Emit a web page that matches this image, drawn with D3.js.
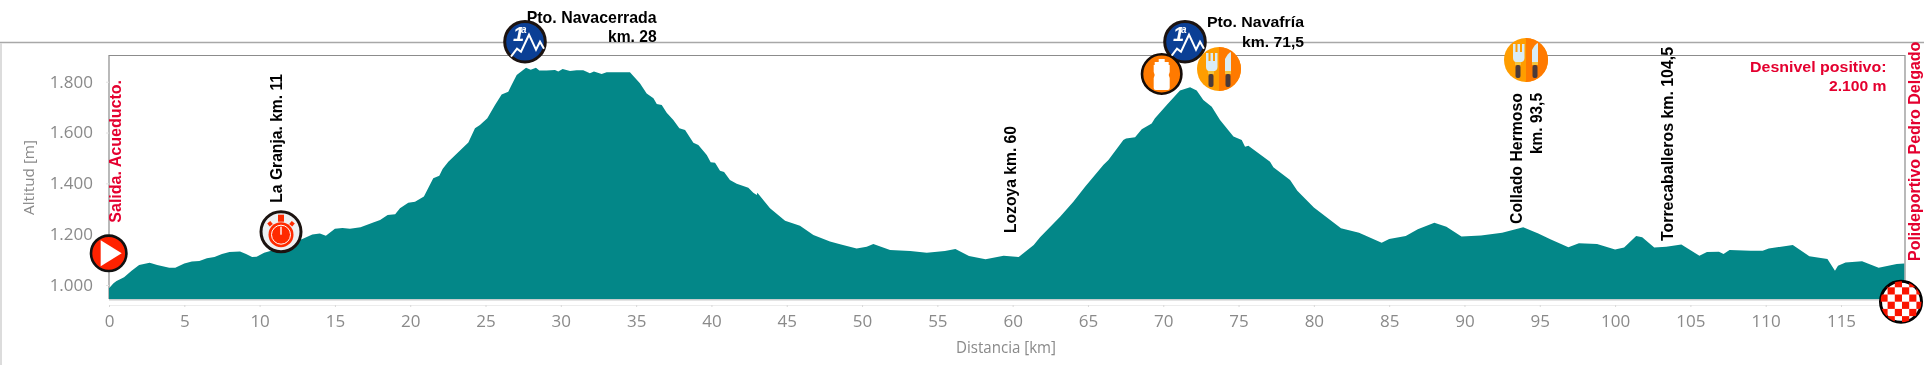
<!DOCTYPE html>
<html><head><meta charset="utf-8">
<script src="https://cdnjs.cloudflare.com/ajax/libs/d3/7.8.5/d3.min.js"></script>
<style>html,body{margin:0;padding:0;background:#fff;overflow:hidden}svg{display:block;filter:blur(.35px)}</style>
</head><body><svg id="c" width="1924" height="365"></svg>
<script>
const km = [0,0.3,0.5,1,1.5,2,2.7,3.2,4,4.4,5,5.5,6,6.5,7,7.5,8,8.7,9.1,9.5,9.8,10.3,11,12,12.8,13.5,14,14.4,15,15.5,16,16.7,17.5,18,18.5,19,19.32,19.87,20.32,20.91,21.53,21.93,22.15,22.53,23.86,24.3,24.63,25.12,25.63,26.07,26.51,26.73,27.07,27.69,28,28.35,28.57,29.06,29.61,29.83,30.12,30.61,31.05,31.49,31.93,32.2,32.71,33.04,34.59,35.25,35.7,36.15,36.37,36.7,37.03,37.47,37.87,38.25,38.8,39.13,39.69,39.95,40.24,40.57,40.84,41.23,41.68,42.45,42.78,43.01,43.05,43.89,44.89,45.88,46.77,47.87,48.54,49.64,50.31,50.75,51.86,53.2,54.3,55.5,56.2,57.1,58.2,59.4,60.4,61.4,61.82,63.15,64.03,64.81,66.02,66.36,67.35,67.53,68.13,68.57,69.23,69.45,70.23,71.11,71.78,72.22,72.66,73.22,73.77,74.66,75.21,75.43,75.65,77.09,77.31,78.42,78.9,80,81.8,83,84.5,85,86.1,86.9,88,88.8,89.8,91.1,92.5,93.9,94.9,95.7,96.9,97.6,98.8,100,100.6,101.4,101.8,102.6,103.4,104.4,105.6,106.1,106.9,107.2,107.6,109,109.8,110.2,111.8,112.9,114.1,114.6,114.8,115.3,116.4,117.5,118.7,119.2];
const altitude = [987,1007,1016,1030,1056,1079,1088,1079,1068,1068,1085,1092,1094,1105,1110,1122,1130,1132,1122,1110,1111,1127,1139,1170,1180,1199,1203,1194,1221,1224,1221,1227,1245,1256,1275,1278,1302,1324,1328,1348,1420,1430,1457,1485,1561,1617,1630,1656,1708,1750,1761,1787,1826,1855,1847,1855,1844,1844,1846,1840,1850,1842,1845,1845,1833,1840,1830,1837,1837,1794,1754,1735,1712,1708,1678,1649,1617,1610,1560,1551,1512,1483,1481,1450,1445,1413,1398,1383,1363,1354,1363,1302,1253,1233,1197,1171,1160,1144,1151,1161,1138,1134,1127,1134,1142,1114,1101,1115,1110,1157,1188,1269,1328,1387,1472,1492,1571,1577,1581,1613,1636,1656,1708,1765,1778,1765,1728,1702,1649,1584,1571,1544,1548,1485,1463,1413,1371,1305,1223,1206,1166,1181,1193,1219,1245,1229,1191,1195,1206,1227,1203,1180,1149,1164,1161,1140,1148,1193,1188,1148,1151,1159,1115,1130,1131,1122,1138,1135,1135,1144,1157,1113,1102,1056,1076,1089,1093,1068,1083,1085];
const xTickValues = d3.range(0,116,5);
const yTickValues = [1000,1200,1400,1600,1800];
const fmtAlt = v => d3.format(",")(v).replace(",",".");

const svg = d3.select("#c");
const x = d3.scaleLinear().domain([0,119.25]).range([109,1905]);
const y = d3.scaleLinear().domain([943.7,1904]).range([299.3,55.3]);
const GREY="#8a8a8a", RED="#e4002f", TEAL="#038788", FONT="'Liberation Sans',Arial,sans-serif", AXF="'Open Sans','DejaVu Sans',sans-serif";

// frame
svg.append("line").attr("x1",0).attr("x2",1924).attr("y1",42.5).attr("y2",42.5).attr("stroke","#a8a8a8").attr("stroke-width",1.3);
svg.append("line").attr("x1",1).attr("x2",1).attr("y1",43).attr("y2",365).attr("stroke","#dcdcdc").attr("stroke-width",2);
svg.append("path").attr("fill","none").attr("stroke","#8c8c8c").attr("stroke-width",1.2)
  .attr("d",`M${x(0)},299V55.5H${x(119.25)}V285`);

// area
const area = d3.area().x((d,i)=>x(km[i])).y0(y.range()[0]).y1(d=>y(d)).curve(d3.curveLinear);
svg.append("path").datum(altitude).attr("fill",TEAL).attr("d",area);
svg.append("line").attr("x1",x(0)).attr("x2",x(119.25)).attr("y1",299.8).attr("y2",299.8).attr("stroke","#c9c9c9").attr("stroke-width",1.2);

// axes
const gx = svg.append("g").attr("transform","translate(0,305)")
  .call(d3.axisBottom(x).tickValues(xTickValues).tickSize(2).tickPadding(8));
gx.select(".domain").attr("stroke","#ececec");
gx.selectAll("line").attr("stroke","#d8d8d8");
gx.selectAll("text").attr("fill",GREY).attr("font-family",AXF).attr("font-size",17).attr("dy","0.71em");
const gy = svg.append("g").attr("transform","translate(109,0)")
  .call(d3.axisLeft(y).tickValues(yTickValues).tickFormat(fmtAlt).tickSize(3).tickPadding(13));
gy.select(".domain").remove();
gy.selectAll("line").attr("stroke","#e2e2e2");
gy.selectAll("text").attr("fill",GREY).attr("font-family",AXF).attr("font-size",17);

// text helpers
function hText(s,x0,x1,base,size,fill,w,font){
  svg.append("text").text(s).attr("x",x0).attr("y",base).attr("textLength",x1-x0).attr("lengthAdjust","spacingAndGlyphs")
   .attr("font-family",font||FONT).attr("font-size",size).attr("font-weight",w||"bold").attr("fill",fill);
}
function vText(s,cx,yBottom,yTop,size,fill,w,font){
  svg.append("text").text(s).attr("transform",`translate(${cx},${yBottom}) rotate(-90)`).attr("dy","0.36em")
   .attr("textLength",yBottom-yTop).attr("lengthAdjust","spacingAndGlyphs")
   .attr("font-family",font||FONT).attr("font-size",size).attr("font-weight",w||"bold").attr("fill",fill);
}
hText("Distancia [km]",956,1056,353,16,GREY,"normal",AXF);
vText("Altitud [m]",29,215,140,15,GREY,"normal",AXF);
vText("Salida. Acueducto.",115.5,222.7,80,16,RED);
vText("La Granja. km. 11",276,202.7,74,16,"#000");
vText("Lozoya km. 60",1010.6,233,126,16,"#000");
vText("Collado Hermoso",1516,224,93,16,"#000");
vText("km. 93,5",1536,154,93,16,"#000");
vText("Torrecaballeros km. 104,5",1667,241,47,16,"#000");
vText("Polideportivo Pedro Delgado",1914.6,261,41.7,16,RED);
hText("Pto. Navacerrada",526.7,656.7,23,16.5,"#000");
hText("km. 28",608,656.7,42,16.5,"#000");
hText("Pto. Navafría",1207,1304,27,15.5,"#000");
hText("km. 71,5",1242,1304,46.7,15.5,"#000");
hText("Desnivel positivo:",1750,1886.5,72,15,RED);
hText("2.100 m",1829,1886.5,91,15,RED);

// icons
function disc(cx,cy,r,fill,stroke,sw){
  const g=svg.append("g").attr("transform",`translate(${cx},${cy})`);
  g.append("circle").attr("r",r-(sw||0)/2).attr("fill",fill).attr("stroke",stroke||"none").attr("stroke-width",sw||0);
  return g;
}
function mountain(cx,cy){
  const g=disc(cx,cy,21.8,"#0b3f95","#1c1310",3);
  g.append("path").attr("fill","none").attr("stroke","#fff").attr("stroke-width",2)
   .attr("d","M-14,15L-8,7L-4,10L4,-7L11,8L15,0L19,7");
  g.append("text").text("1").attr("x",-12).attr("y",-1).attr("font-family",FONT).attr("font-style","italic").attr("font-weight","bold").attr("font-size",20).attr("fill","#fff");
  g.append("text").text("a").attr("x",-4).attr("y",-9).attr("font-family",FONT).attr("font-style","italic").attr("font-weight","bold").attr("font-size",10).attr("fill","#fff");
}
function food(cx,cy){
  const g=svg.append("g").attr("transform",`translate(${cx},${cy})`);
  const clip="clipf"+Math.round(cx);
  g.append("clipPath").attr("id",clip).append("circle").attr("r",22);
  g.append("circle").attr("r",22).attr("fill","#ff9d00");
  g.append("rect").attr("x",0).attr("y",-22).attr("width",22).attr("height",44).attr("fill","#ff7a00").attr("clip-path",`url(#${clip})`);
  g.append("path").attr("fill","#d9ecf5").attr("d","M-13,-16h2.5v8h2v-8h2.5v8h2v-8h2.5v14q0,4,-5,4.5h-2q-4.5,-.5,-4.5,-4.5z");
  g.append("rect").attr("x",-11).attr("y",2).attr("width",6).attr("height",3).attr("fill","#f5c33b");
  g.append("rect").attr("x",-10.5).attr("y",5).attr("width",5).attr("height",13).attr("rx",2).attr("fill","#4a3a3a");
  g.append("path").attr("fill","#d9ecf5").attr("d","M6,2V-10q3,-6,6,-7V2z");
  g.append("rect").attr("x",6).attr("y",2).attr("width",6).attr("height",3).attr("fill","#f5c33b");
  g.append("rect").attr("x",6.5).attr("y",5).attr("width",5).attr("height",13).attr("rx",2).attr("fill","#4a3a3a");
}
mountain(525,41.7);
mountain(1185,41.7);
// start
{const g=disc(108.7,253.3,19,"#ff2200","#111",2.6);
 g.append("path").attr("fill","#fff").attr("d","M-8,-13L13,0L-8,13z");}
// stopwatch
{const g=disc(281,231.7,21.5,"#eef0f2","#1c1310",3);
 g.append("circle").attr("cy",3).attr("r",12.5).attr("fill","#ff2a00");
 g.append("circle").attr("cy",3).attr("r",9.5).attr("fill","none").attr("stroke","#fff").attr("stroke-width",1);
 g.append("rect").attr("x",-3).attr("y",-17).attr("width",6).attr("height",7).attr("fill","#ff2a00");
 g.append("rect").attr("x",-13).attr("y",-10).attr("width",4).attr("height",4).attr("transform","rotate(-40 -11 -8)").attr("fill","#ff2a00");
 g.append("rect").attr("x",9).attr("y",-10).attr("width",4).attr("height",4).attr("transform","rotate(40 11 -8)").attr("fill","#ff2a00");
 g.append("rect").attr("x",-.7).attr("y",-5).attr("width",1.4).attr("height",8).attr("fill","#fff");}
// bottle
{const g=disc(1161.7,74,21,"#ff7a00","#150c08",2.6);
 g.append("path").attr("fill","#fff").attr("d","M-3,-15h6v3h4v3h1v7l-1,3l1,3v10q0,2,-2,2h-12q-2,0,-2,-2v-10l1,-3l-1,-3v-7h1v-3h4z");}
food(1219,69);
food(1526,60);
// finish
{const r=21;
 const g=disc(1901,301.7,22,"#fff","#000",3);
 const cid="clipfin";
 g.append("clipPath").attr("id",cid).append("circle").attr("r",r-.5);
 const cg=g.append("g").attr("clip-path",`url(#${cid})`);
 const s=7.2;
 d3.range(-4,4).forEach(i=>d3.range(-4,4).forEach(j=>{
   if((i+j+8)%2===0) cg.append("rect").attr("x",i*s+1).attr("y",j*s).attr("width",s).attr("height",s).attr("fill","#fa1400");
 }));}
</script></body></html>
